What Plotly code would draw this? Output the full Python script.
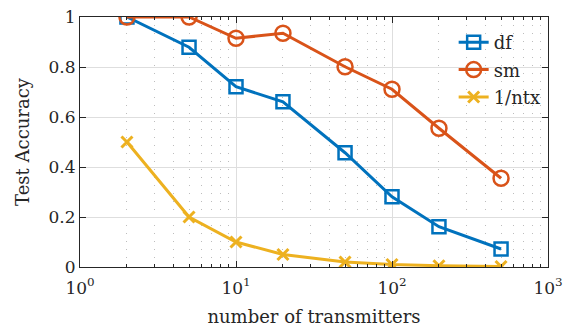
import plotly.graph_objects as go

# number of transmitters
n_tx = [2, 5, 10, 20, 50, 100, 200, 500]

# test accuracy per method
acc_df = [1.0, 0.879, 0.721, 0.661, 0.457, 0.281, 0.161, 0.072]
acc_sm = [1.0, 1.0, 0.915, 0.935, 0.801, 0.711, 0.555, 0.355]
acc_inv = [0.5, 0.2, 0.1, 0.05, 0.02, 0.01, 0.005, 0.002]

x_tickvals = [1, 10, 100, 1000]
x_ticktext = ["10<sup>0</sup>", "10<sup>1</sup>", "10<sup>2</sup>", "10<sup>3</sup>"]
y_tickvals = [0, 0.2, 0.4, 0.6, 0.8, 1.0]
y_ticktext = ["0", "0.2", "0.4", "0.6", "0.8", "1"]

BLUE = "#0072BD"
ORANGE = "#D95319"
YELLOW = "#EDB120"
FONT = "DejaVu Serif"
TXT = "#262626"

fig = go.Figure()
fig.add_trace(go.Scatter(
    x=n_tx, y=acc_df, name="df", mode="lines+markers", legendgroup="a",
    line=dict(color=BLUE, width=3),
    marker=dict(symbol="square-open", size=13, color=BLUE, line=dict(width=2.5, color=BLUE)),
))
fig.add_trace(go.Scatter(
    x=n_tx, y=acc_sm, name="sm", mode="lines+markers", legendgroup="b",
    line=dict(color=ORANGE, width=3),
    marker=dict(symbol="circle-open", size=15, color=ORANGE, line=dict(width=2.5, color=ORANGE)),
))
fig.add_trace(go.Scatter(
    x=n_tx, y=acc_inv, name="1/ntx", mode="lines+markers", legendgroup="c",
    line=dict(color=YELLOW, width=3),
    marker=dict(symbol="x-thin", size=11, color=YELLOW, line=dict(width=3, color=YELLOW)),
))

fig.update_layout(
    width=567, height=327,
    margin=dict(l=80, r=19, t=17, b=60),
    paper_bgcolor="white", plot_bgcolor="white",
    font=dict(family=FONT, size=17, color=TXT),
    showlegend=True,
    legend=dict(
        x=0.995, y=0.972, xanchor="right", yanchor="top",
        bgcolor="rgba(0,0,0,0)", borderwidth=0,
        font=dict(family=FONT, size=18, color=TXT),
        tracegroupgap=1,
    ),
)

fig.update_xaxes(
    type="log", range=[0, 3], automargin=False,
    tickvals=x_tickvals, ticktext=x_ticktext,
    ticks="inside", ticklen=6, tickcolor=TXT, ticklabelstandoff=5,
    showline=True, linecolor=TXT, linewidth=1.2, mirror="ticks",
    showgrid=True, gridcolor="#dedede", gridwidth=1,
    minor=dict(ticks="inside", ticklen=3, tickcolor=TXT,
               showgrid=True, gridcolor="#bdbdbd", griddash="1px,7px", gridwidth=1,
               dtick="D1"),
    zeroline=False,
    title=dict(text="number of transmitters", font=dict(family=FONT, size=18), standoff=14),
)
fig.update_yaxes(
    range=[0, 1], automargin=False,
    tickvals=y_tickvals, ticktext=y_ticktext,
    ticks="inside", ticklen=6, tickcolor=TXT,
    showline=True, linecolor=TXT, linewidth=1.2, mirror="ticks",
    showgrid=True, gridcolor="#dedede", gridwidth=1,
    zeroline=False,
    title=dict(text="Test Accuracy", font=dict(family=FONT, size=18), standoff=14),
)

fig.write_html("out.html")
